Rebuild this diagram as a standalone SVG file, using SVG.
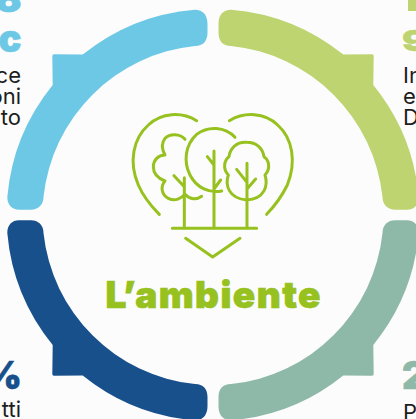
<svg xmlns="http://www.w3.org/2000/svg" width="416" height="419" viewBox="0 0 416 419">
<style>
.b{font-family:"Inter","Liberation Sans",sans-serif;font-size:22px;fill:#1d1d1b}
.n{font-family:"Inter","Liberation Sans",sans-serif;font-size:38px;font-weight:900;stroke-width:.6}
.t{font-family:"Inter","Liberation Sans",sans-serif;font-size:37px;font-weight:900;fill:#97c11f;stroke:#97c11f;stroke-width:.7}
.l{fill:none;stroke:#97c11f;stroke-width:9;stroke-linecap:round;stroke-linejoin:round}
</style>
<defs>
<path id="seg" d="M7.3,197 A206,206 0 0 1 52.7,85 L52.3,56 Q52.3,54.3 54,54.3 L82.7,54.6 A206,206 0 0 1 195,9.7 C203,9.7 207.5,15 207.5,24 L207.5,33 C207.5,41 203,46 195,45.9 A170,170 0 0 0 43.5,197 C43.5,205 38,209.7 31,209.7 L19,209.7 C12,209.7 7.3,205 7.3,197 Z"/>
</defs>
<rect width="416" height="419" fill="#fcfcfc"/>
<g id="segment-top-left">
<use href="#seg" fill="#6dc8e6"/>
<text class="n" x="21.5" y="12" text-anchor="end" fill="#6dc8e6" stroke="#6dc8e6">8</text>
<text class="n" x="21.5" y="51.5" text-anchor="end" fill="#6dc8e6" stroke="#6dc8e6">c</text>
<text class="b" x="21" y="82.7" text-anchor="end">ce</text>
<text class="b" x="21" y="104" text-anchor="end">oni</text>
<text class="b" x="21" y="125" text-anchor="end">to</text>
</g>
<g id="segment-top-right">
<use href="#seg" fill="#bdd470" transform="matrix(-1 0 0 1 426 0)"/>
<rect x="408" y="0" width="8" height="11" fill="#bdd470"/>
<text class="n" transform="translate(402 50.5) scale(1 .74)" fill="#bdd470" stroke="#bdd470">9</text>
<text class="b" x="403" y="82.7">In</text>
<text class="b" x="403" y="104">e</text>
<text class="b" x="403" y="125">D</text>
</g>
<g id="segment-bottom-left">
<use href="#seg" fill="#18508c" transform="matrix(1 0 0 -1 0 430)"/>
<text class="n" x="22" y="389" text-anchor="end" fill="#18508c" stroke="#18508c">%</text>
<text class="b" x="21" y="416.7" text-anchor="end">tti</text>
</g>
<g id="segment-bottom-right">
<use href="#seg" fill="#8eb9a8" transform="matrix(-1 0 0 -1 426 430)"/>
<text class="n" x="402" y="389" fill="#8eb9a8" stroke="#8eb9a8">2</text>
<text class="b" x="403" y="420">P</text>
</g>
<g id="center">
<g transform="translate(125 105) scale(.3333)">
<path class="l" d="M215,47 C170,20 110,22 70,60 C25,100 10,170 40,240 C55,275 80,305 103,328"/>
<path class="l" d="M313,47 C358,20 420,22 458,60 C503,100 515,170 487,240 C470,275 447,305 425,328"/>
<path class="l" d="M180,103 C165,85 135,85 120,100 C108,115 112,135 120,150 C100,150 85,165 85,185 C85,205 100,220 120,228 C105,245 110,270 130,280 C150,290 170,280 180,268 C195,285 215,285 230,274"/>
<path class="l" d="M178,218 V368 M147,212 L178,245"/>
<path class="l" d="M330,97 C300,65 250,62 215,88 C180,120 175,170 195,210 C215,250 255,265 290,258"/>
<path class="l" d="M267,138 V368 M247,155 L267,180 M287,225 L267,252"/>
<path class="l" d="M365,112 C335,110 315,130 312,155 C298,165 292,190 310,210 C300,240 310,280 365,285 C420,282 430,240 420,210 C438,190 432,165 417,155 C413,130 395,112 365,112 Z"/>
<path class="l" d="M366,175 V368 M335,193 L366,232 M392,222 L366,252"/>
<path class="l" d="M142,370 H395 M182,400 L263,456 L345,400"/>
</g>
<text class="t" x="105.5" y="308.3" textLength="215" lengthAdjust="spacing">L’ambiente</text>
</g>
</svg>
